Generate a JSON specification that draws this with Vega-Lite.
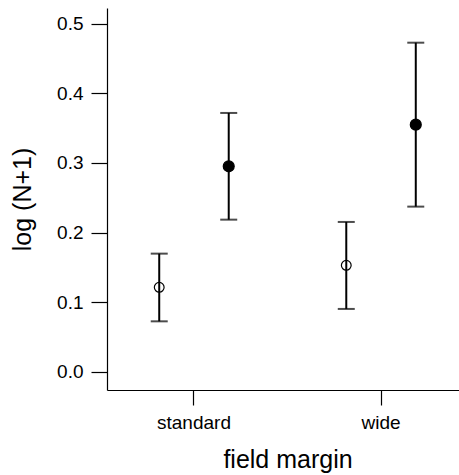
{
  "$schema": "https://vega.github.io/schema/vega-lite/v6.json",
  "autosize": "none",
  "padding": {"left": 107, "top": 8, "right": 0, "bottom": 85},
  "width": 361,
  "height": 382,
  "background": "white",
  "config": {
    "view": {"stroke": null},
    "font": "Liberation Sans",
    "axis": {
      "domainColor": "black",
      "tickColor": "black",
      "labelColor": "black",
      "titleColor": "black",
      "grid": false,
      "labelFont": "Liberation Sans",
      "titleFont": "Liberation Sans",
      "titleFontWeight": "normal"
    }
  },
  "data": {
    "values": [
      {"margin": "standard", "group": "control", "mean": 0.1214, "lo": 0.0726, "hi": 0.1698},
      {"margin": "standard", "group": "treated", "mean": 0.2952, "lo": 0.2186, "hi": 0.3718},
      {"margin": "wide", "group": "control", "mean": 0.1530, "lo": 0.0904, "hi": 0.2153},
      {"margin": "wide", "group": "treated", "mean": 0.3550, "lo": 0.2373, "hi": 0.4727}
    ]
  },
  "encoding": {
    "x": {
      "field": "margin",
      "type": "nominal",
      "sort": ["standard", "wide"],
      "scale": {"type": "band", "paddingInner": 0.2, "paddingOuter": 0.065},
      "axis": {
        "title": "field margin",
        "labelAngle": 0,
        "tickSize": 15,
        "labelPadding": 8,
        "labelFontSize": 19,
        "titleFontSize": 25,
        "titlePadding": 15,
        "domainWidth": 1.2,
        "tickWidth": 1.2
      }
    },
    "xOffset": {
      "field": "group",
      "type": "nominal",
      "sort": ["control", "treated"],
      "scale": {"paddingInner": 0, "paddingOuter": 0.0765}
    }
  },
  "layer": [
    {
      "mark": {"type": "rule", "color": "black", "strokeWidth": 2},
      "encoding": {
        "y": {
          "field": "lo",
          "type": "quantitative",
          "scale": {"domain": [-0.026, 0.5225], "nice": false, "zero": false},
          "axis": {
            "title": "log (N+1)",
            "values": [0, 0.1, 0.2, 0.3, 0.4, 0.5],
            "format": ".1f",
            "tickSize": 16,
            "labelPadding": 8,
            "labelFontSize": 19,
            "titleFontSize": 25,
            "titlePadding": 21,
            "domainWidth": 1.2,
            "tickWidth": 1.2
          }
        },
        "y2": {"field": "hi"}
      }
    },
    {
      "mark": {"type": "tick", "color": "black", "orient": "horizontal", "size": 17, "thickness": 2},
      "encoding": {"y": {"field": "lo", "type": "quantitative"}}
    },
    {
      "mark": {"type": "tick", "color": "black", "orient": "horizontal", "size": 17, "thickness": 2},
      "encoding": {"y": {"field": "hi", "type": "quantitative"}}
    },
    {
      "mark": {"type": "point", "shape": "circle", "stroke": "black", "strokeWidth": 1.2, "opacity": 1},
      "encoding": {
        "y": {"field": "mean", "type": "quantitative"},
        "fill": {
          "field": "group",
          "type": "nominal",
          "scale": {"domain": ["control", "treated"], "range": ["transparent", "black"]},
          "legend": null
        },
        "size": {
          "field": "group",
          "type": "nominal",
          "scale": {"domain": ["control", "treated"], "range": [95, 120]},
          "legend": null
        }
      }
    }
  ]
}
